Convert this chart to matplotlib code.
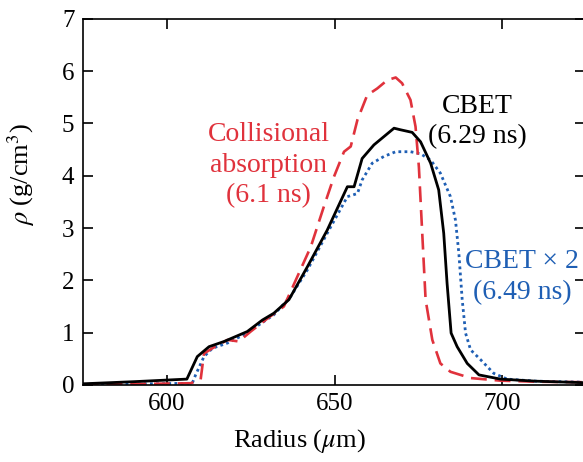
import matplotlib
matplotlib.use('Agg')
import matplotlib.pyplot as plt

# CBET (6.29 ns), black solid
cbet_r = [575, 590, 606, 609.1, 612.6, 617.1, 624.0, 628.5, 631.9, 636.4, 641.9, 647.8, 653.8, 655.8,
          658.2, 661.7, 664.7, 667.7, 669.6, 673.1, 675.6, 678.6, 681.0, 682.5, 683.5, 684.7, 686.5,
          689.5, 693.0, 699.4, 710, 725]
cbet_rho = [0.02, 0.06, 0.11, 0.54, 0.73, 0.83, 1.02, 1.24, 1.37, 1.63, 2.26, 2.96, 3.79, 3.79,
            4.33, 4.59, 4.75, 4.91, 4.88, 4.83, 4.65, 4.24, 3.73, 2.90, 1.94, 0.99, 0.73,
            0.41, 0.19, 0.11, 0.07, 0.04]

# Collisional absorption (6.1 ns), red dashed
coll_r = [575, 595, 607.1, 610.1, 611.1, 613.6, 618.1, 621.5, 625.0, 630.0, 634.9, 638.9, 642.9,
          646.8, 649.8, 652.8, 654.8, 656.8, 659.7, 662.7, 665.7, 668.2, 670.1, 672.6, 674.1,
          675.1, 676.1, 677.1, 679.1, 681.5, 684.5, 690.5, 699.4, 710, 725]
coll_rho = [0.01, 0.02, 0.03, 0.10, 0.60, 0.70, 0.86, 0.83, 1.02, 1.27, 1.50, 2.07, 2.64,
            3.41, 3.98, 4.46, 4.56, 5.07, 5.54, 5.67, 5.83, 5.88, 5.77, 5.45, 4.94,
            4.17, 2.90, 1.63, 0.86, 0.41, 0.25, 0.13, 0.08, 0.06, 0.05]

# CBET x 2 (6.49 ns), blue dotted
cbet2_r = [575, 595, 607.6, 608.6, 611.1, 613.6, 618.1, 623.0, 627.5, 631.9, 636.9, 641.9, 647.8,
           653.8, 656.8, 658.2, 661.2, 664.7, 668.2, 672.6, 675.6, 678.6, 681.5, 684.5, 686.0,
           687.0, 688.0, 689.0, 690.5, 693.5, 697.4, 701.4, 710, 725]
cbet2_rho = [0.01, 0.02, 0.03, 0.19, 0.54, 0.70, 0.80, 0.96, 1.15, 1.34, 1.69, 2.20, 2.90,
             3.60, 3.66, 3.92, 4.24, 4.37, 4.46, 4.46, 4.42, 4.30, 4.05, 3.60, 3.15,
             2.52, 1.63, 0.99, 0.67, 0.48, 0.22, 0.11, 0.07, 0.05]

red = '#e0323c'
blue = '#1f5fb4'

plt.rcParams['font.family'] = ['Liberation Serif', 'DejaVu Serif']
plt.rcParams['mathtext.fontset'] = 'stix'

fig = plt.figure(figsize=(5.83, 4.62), dpi=100)
ax = fig.add_axes([0.142, 0.167, 0.861, 0.792])

ax.plot(cbet2_r, cbet2_rho, color=blue, lw=2.0, linestyle=(0, (1, 1.2)))
ax.plot(coll_r, coll_rho, color=red, lw=1.9, linestyle=(0, (6, 3)))
ax.plot(cbet_r, cbet_rho, color='black', lw=2.0)

ax.text(692.5, 5.03, 'CBET\n(6.29 ns)', color='black', fontsize=20, ha='center', va='center',
        linespacing=1.28)
ax.text(630.4, 4.2, 'Collisional\nabsorption\n(6.1 ns)', color=red, fontsize=20, ha='center',
        va='center', linespacing=1.28)
ax.text(705.8, 2.06, 'CBET \u00d7 2\n(6.49 ns)', color=blue, fontsize=20, ha='center', va='center',
        linespacing=1.28)

ax.set_xlim(575, 724.5)
ax.set_ylim(0, 7)
ax.set_xticks([600, 650, 700])
ax.set_yticks(range(0, 8))
ax.tick_params(direction='in', length=7, width=1.2, labelsize=18, top=True, right=True, pad=6)
for s in ax.spines.values():
    s.set_linewidth(1.2)

ax.set_xlabel(r'Radius ($\mathit{\mu}$m)', fontsize=19)
ax.set_ylabel(r'$\rho$ (g/cm$^3$)', fontsize=19)
ax.xaxis.set_label_coords(0.432, -0.115)
ax.yaxis.set_label_coords(-0.092, 0.574)

fig.savefig('out.png', dpi=100)
